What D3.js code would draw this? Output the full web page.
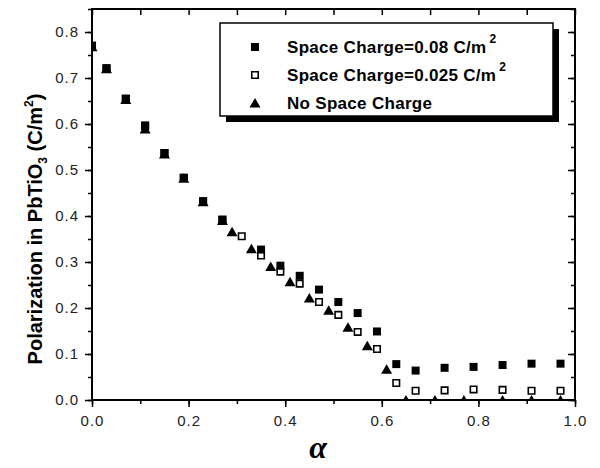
<!DOCTYPE html>
<html>
  <head>
    <meta charset="utf-8" />
    <title>Polarization vs alpha</title>
    <script src="https://d3js.org/d3.v7.min.js"></script>
    <style>
      body { margin: 0; background: #fff; }
      text { font-family: 'Liberation Sans', Arial, sans-serif; }
      .tick-label { font-size: 15px; fill: #222; letter-spacing: 1px; }
      .legend-text { font-size: 17px; font-weight: bold; letter-spacing: 0.3px; }
    </style>
  </head>
  <body>
    <div id="chart"></div>
    <script>
      // data
      const alphaSq = [0, 0.03, 0.07, 0.11, 0.15, 0.19, 0.23, 0.27, 0.35, 0.39, 0.43, 0.47, 0.51, 0.55, 0.59, 0.63, 0.67, 0.73, 0.79, 0.85, 0.91, 0.97];
      const charge008 = [0.770, 0.721, 0.655, 0.597, 0.537, 0.483, 0.432, 0.392, 0.327, 0.292, 0.270, 0.240, 0.213, 0.189, 0.149, 0.078, 0.064, 0.070, 0.072, 0.076, 0.079, 0.079];

      const alphaOpen = [0, 0.03, 0.07, 0.11, 0.15, 0.19, 0.23, 0.27, 0.31, 0.35, 0.39, 0.43, 0.47, 0.51, 0.55, 0.59, 0.63, 0.67, 0.73, 0.79, 0.85, 0.91, 0.97];
      const charge0025 = [0.770, 0.721, 0.655, 0.595, 0.537, 0.483, 0.432, 0.392, 0.356, 0.314, 0.279, 0.253, 0.213, 0.185, 0.148, 0.111, 0.037, 0.020, 0.021, 0.023, 0.022, 0.020, 0.020];

      const alphaTri = [0, 0.03, 0.07, 0.11, 0.15, 0.19, 0.23, 0.27, 0.29, 0.33, 0.37, 0.41, 0.45, 0.49, 0.53, 0.57, 0.61, 0.65, 0.71, 0.77, 0.85, 0.91, 0.97];
      const noCharge = [0.768, 0.720, 0.653, 0.589, 0.535, 0.482, 0.431, 0.390, 0.366, 0.329, 0.290, 0.257, 0.222, 0.195, 0.158, 0.118, 0.067, 0, 0, 0, 0, 0, 0];

      const xTicks = [0, 0.2, 0.4, 0.6, 0.8, 1.0];
      const yTicks = [0, 0.1, 0.2, 0.3, 0.4, 0.5, 0.6, 0.7, 0.8];

      const width = 600;
      const height = 468;
      const margin = { top: 9, right: 25, bottom: 68, left: 92 };

      const svg = d3.select('#chart').append('svg')
        .attr('width', width)
        .attr('height', height);

      const x = d3.scaleLinear().domain([0, 1]).range([margin.left, width - margin.right]);
      const y = d3.scaleLinear().domain([0, 0.85]).range([height - margin.bottom, margin.top]);

      // clip so markers sitting on the axes get cut
      svg.append('clipPath').attr('id', 'plot-clip')
        .append('rect')
        .attr('x', x(0)).attr('y', y(0.85))
        .attr('width', x(1) - x(0)).attr('height', y(0) - y(0.85));

      // axes: bottom/left ticks outward, top/right inward
      const minorX = d3.range(0, 1.0001, 0.1);
      const minorY = d3.range(0, 0.8501, 0.05);

      svg.append('g')
        .attr('transform', `translate(0,${y(0)})`)
        .call(d3.axisBottom(x).tickValues(minorX).tickSize(4).tickFormat(''))
        .call((g) => g.select('.domain').remove());
      svg.append('g')
        .attr('transform', `translate(0,${y(0)})`)
        .call(d3.axisBottom(x).tickValues(xTicks).tickSize(7).tickPadding(8).tickFormat(d3.format('.1f')))
        .call((g) => g.select('.domain').remove())
        .call((g) => g.selectAll('text').attr('class', 'tick-label').attr('font-size', null).attr('font-family', null));

      svg.append('g')
        .attr('transform', `translate(${x(0)},0)`)
        .call(d3.axisLeft(y).tickValues(minorY).tickSize(4).tickFormat(''))
        .call((g) => g.select('.domain').remove());
      svg.append('g')
        .attr('transform', `translate(${x(0)},0)`)
        .call(d3.axisLeft(y).tickValues(yTicks).tickSize(7).tickPadding(6).tickFormat(d3.format('.1f')))
        .call((g) => g.select('.domain').remove())
        .call((g) => g.selectAll('text').attr('class', 'tick-label').attr('font-size', null).attr('font-family', null));

      svg.append('g')
        .attr('transform', `translate(0,${y(0.85)})`)
        .call(d3.axisBottom(x).tickValues(minorX).tickSize(6).tickFormat(''))
        .call((g) => g.select('.domain').remove());
      svg.append('g')
        .attr('transform', `translate(${x(1)},0)`)
        .call(d3.axisRight(y).tickValues(minorY).tickSize(-4).tickFormat(''))
        .call((g) => g.select('.domain').remove());
      svg.append('g')
        .attr('transform', `translate(${x(1)},0)`)
        .call(d3.axisRight(y).tickValues(yTicks).tickSize(-7).tickFormat(''))
        .call((g) => g.select('.domain').remove());

      svg.selectAll('.tick line').attr('stroke', '#000').attr('stroke-width', 1.5);

      // frame
      svg.append('rect')
        .attr('x', x(0)).attr('y', y(0.85))
        .attr('width', x(1) - x(0)).attr('height', y(0) - y(0.85))
        .attr('fill', 'none').attr('stroke', '#000').attr('stroke-width', 2);

      // markers (triangle centred on its box, like Origin)
      const square = d3.symbol().type(d3.symbolSquare);
      const triPath = 'M0,-5L5.5,4.5L-5.5,4.5Z';
      const plot = svg.append('g').attr('clip-path', 'url(#plot-clip)');

      plot.append('g').selectAll('path')
        .data(alphaOpen.map((a, i) => [a, charge0025[i]]))
        .join('path')
        .attr('transform', (d) => `translate(${x(d[0])},${y(d[1])})`)
        .attr('d', square.size(42)())
        .attr('fill', '#fff').attr('stroke', '#000').attr('stroke-width', 1.6);

      plot.append('g').selectAll('path')
        .data(alphaSq.map((a, i) => [a, charge008[i]]))
        .join('path')
        .attr('transform', (d) => `translate(${x(d[0])},${y(d[1])})`)
        .attr('d', square.size(64)())
        .attr('fill', '#000');

      plot.append('g').selectAll('path')
        .data(alphaTri.map((a, i) => [a, noCharge[i]]))
        .join('path')
        .attr('transform', (d) => `translate(${x(d[0])},${y(d[1])})`)
        .attr('d', triPath)
        .attr('fill', '#000');

      // legend with drop shadow
      const lg = svg.append('g');
      lg.append('rect').attr('x', 226).attr('y', 29).attr('width', 333).attr('height', 93).attr('fill', '#000');
      lg.append('rect').attr('x', 220).attr('y', 23).attr('width', 333).attr('height', 93)
        .attr('fill', '#fff').attr('stroke', '#000').attr('stroke-width', 1.5);

      const legendRows = [
        { label: 'Space Charge=0.08 C/m', sup: '2', kind: 'filled' },
        { label: 'Space Charge=0.025 C/m', sup: '2', kind: 'open' },
        { label: 'No Space Charge', sup: '', kind: 'tri' },
      ];
      legendRows.forEach((r, i) => {
        const cy = 47 + i * 28;
        const g = lg.append('g').attr('transform', `translate(255,${cy})`);
        if (r.kind === 'filled') g.append('path').attr('d', square.size(64)()).attr('fill', '#000');
        if (r.kind === 'open') g.append('path').attr('d', square.size(42)()).attr('fill', '#fff').attr('stroke', '#000').attr('stroke-width', 1.6);
        if (r.kind === 'tri') g.append('path').attr('d', triPath).attr('fill', '#000');
        const t = lg.append('text').attr('class', 'legend-text')
          .attr('x', 287).attr('y', cy + 6).text(r.label);
        if (r.sup) t.append('tspan').attr('dx', 3).attr('dy', -10).attr('font-size', 12).text(r.sup);
      });

      // axis titles
      const yt = svg.append('text')
        .attr('transform', `translate(42,229) rotate(-90)`)
        .attr('text-anchor', 'middle')
        .attr('font-size', 20).attr('font-weight', 'bold');
      yt.append('tspan').text('Polarization in PbTiO');
      yt.append('tspan').attr('font-size', 12).attr('dy', 5).text('3');
      yt.append('tspan').attr('dy', -5).text(' (C/m');
      yt.append('tspan').attr('font-size', 12).attr('dy', -9).text('2');
      yt.append('tspan').attr('dy', 9).text(')');

      svg.append('text')
        .attr('x', 318).attr('y', 458)
        .attr('text-anchor', 'middle')
        .style('font-family', "'Liberation Serif', serif")
        .attr('font-size', 32).attr('font-weight', 'bold').attr('font-style', 'italic')
        .text('α');
    </script>
  </body>
</html>
